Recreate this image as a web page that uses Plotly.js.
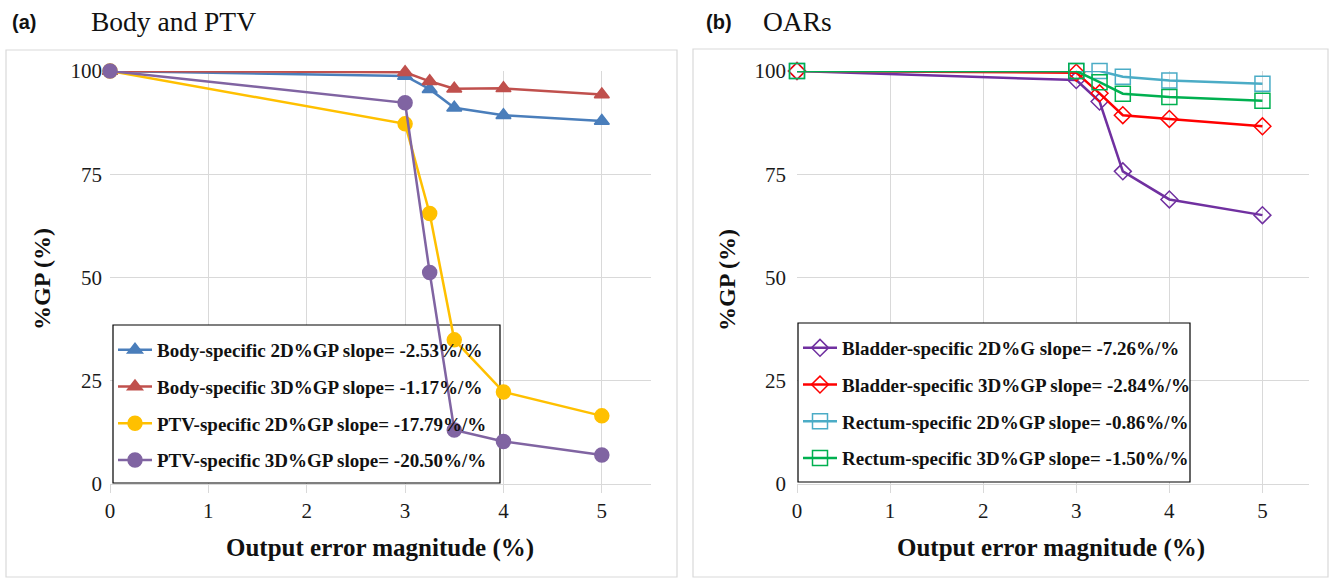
<!DOCTYPE html>
<html>
<head>
<meta charset="utf-8">
<script src="https://cdn.plot.ly/plotly-3.0.1.min.js"></script>
<style>html,body{margin:0;padding:0;background:#fff;}#chart{width:1333px;height:581px;}</style>
</head>
<body>
<div id="chart"></div>
<script>
// ---- data ----
const errorMagnitude = [0, 3, 3.25, 3.5, 4, 5];
const body2D = [100, 98.8, 95.6, 91.1, 89.3, 87.9];
const body3D = [100, 99.7, 97.5, 95.7, 95.8, 94.3];
const ptv2D = [100, 87.2, 65.5, 34.9, 22.3, 16.5];
const ptv3D = [100, 92.3, 51.2, 13.1, 10.3, 7.0];
const bladder2D = [100, 97.8, 92.6, 75.7, 68.9, 65.1];
const bladder3D = [100, 99.6, 94.6, 89.3, 88.4, 86.6];
const rectum2D = [100, 100, 100, 98.6, 97.7, 96.9];
const rectum3D = [100, 100, 97.3, 94.5, 93.7, 92.8];
const namesA = ["Body-specific 2D%GP slope= -2.53%/%", "Body-specific 3D%GP slope= -1.17%/%",
                "PTV-specific 2D%GP slope= -17.79%/%", "PTV-specific 3D%GP slope= -20.50%/%"];
const namesB = ["Bladder-specific 2D%G slope= -7.26%/%", "Bladder-specific 3D%GP slope= -2.84%/%",
                "Rectum-specific 2D%GP slope= -0.86%/%", "Rectum-specific 3D%GP slope= -1.50%/%"];
const xTicks = [0, 1, 2, 3, 4, 5];
const yTicks = [0, 25, 50, 75, 100];

const W = 1333, H = 581;
const px = v => v / W, py = v => (H - v) / H;
const SERIF = "Liberation Serif, Times New Roman, serif";
const XMAX = 5.5, YMAX = 100;

// plot area pixel boxes
const A = {l: 110, r: 651, t: 71, b: 484};
const B = {l: 797, r: 1309, t: 71, b: 484};

function tr(y, name, color, symbol, size, xa, ya, leg, grp) {
  return {
    x: errorMagnitude, y: y, name: name, type: 'scatter', mode: 'lines+markers',
    xaxis: xa, yaxis: ya, legend: leg, legendgroup: grp, cliponaxis: false,
    line: {color: color, width: 2.5},
    marker: {color: color, symbol: symbol, size: size, line: {color: color, width: 1.5}}
  };
}

const data = [
  tr(body2D, namesA[0], '#4a7ebb', 'triangle-up', 13, 'x', 'y', 'legend', 'a1'),
  tr(body3D, namesA[1], '#c0504d', 'triangle-up', 13, 'x', 'y', 'legend', 'a2'),
  tr(ptv2D, namesA[2], '#ffc000', 'circle', 14, 'x', 'y', 'legend', 'a3'),
  tr(ptv3D, namesA[3], '#8064a2', 'circle', 14, 'x', 'y', 'legend', 'a4'),
  tr(bladder2D, namesB[0], '#7030a0', 'diamond-open', 13, 'x2', 'y2', 'legend2', 'b1'),
  tr(bladder3D, namesB[1], '#ff0000', 'diamond-open', 13, 'x2', 'y2', 'legend2', 'b2'),
  tr(rectum2D, namesB[2], '#4bacc6', 'square-open', 15, 'x2', 'y2', 'legend2', 'b3'),
  tr(rectum3D, namesB[3], '#00b050', 'square-open', 15, 'x2', 'y2', 'legend2', 'b4')
];

function xAxis(P, anchor) {
  return {
    domain: [px(P.l), px(P.r)], anchor: anchor, range: [0, XMAX], tickvals: xTicks, ticktext: xTicks.map(String),
    showgrid: true, gridcolor: '#d9d9d9', gridwidth: 1, zeroline: false,
    showline: true, linecolor: '#d9d9d9', linewidth: 1,
    ticks: 'outside', ticklen: 8, tickcolor: '#d9d9d9',
    tickfont: {family: SERIF, size: 21, color: '#1a1a1a'}, fixedrange: true
  };
}
function yAxis(P, anchor, standoff) {
  return {
    domain: [py(P.b), py(P.t)], anchor: anchor, range: [0, YMAX], tickvals: yTicks, ticktext: yTicks.map(String),
    showgrid: true, gridcolor: '#d9d9d9', gridwidth: 1, zeroline: false, showline: false,
    ticks: '', ticklabelstandoff: standoff,
    tickfont: {family: SERIF, size: 21, color: '#1a1a1a'}, fixedrange: true
  };
}
function legendCfg(xp, yp) {
  return {
    x: px(xp), y: py(yp), xanchor: 'left', yanchor: 'top',
    bgcolor: 'rgba(0,0,0,0)', borderwidth: 0,
    font: {family: SERIF, size: 19, color: '#111', weight: 'bold'},
    traceorder: 'grouped', tracegroupgap: 9, itemwidth: 34
  };
}
// legend frame drawn between gridlines and traces (lines cross over it as in the original)
function frame(P, xa, ya, l, t, r, b) {
  const w = P.r - P.l, h = P.b - P.t;
  return {type: 'rect', xref: xa, yref: ya, layer: 'between',
    x0: (l - P.l) / w * XMAX, x1: (r - P.l) / w * XMAX, y0: (P.b - b) / h * YMAX, y1: (P.b - t) / h * YMAX,
    fillcolor: '#ffffff', line: {color: '#000', width: 1.2}};
}

const ann = (text, x, y, font, extra) => Object.assign({text: text, x: px(x), y: py(y), xref: 'paper', yref: 'paper',
  xanchor: 'center', yanchor: 'middle', showarrow: false, font: font}, extra || {});
const SANS = 'Liberation Sans, Arial, sans-serif';

const layout = {
  width: W, height: H, margin: {l: 0, r: 0, t: 0, b: 0},
  paper_bgcolor: '#fff', plot_bgcolor: '#fff', showlegend: true,
  xaxis: xAxis(A, 'y'), yaxis: yAxis(A, 'x', 7),
  xaxis2: xAxis(B, 'y2'), yaxis2: yAxis(B, 'x2', 10),
  legend: legendCfg(113, 331),
  legend2: legendCfg(798, 329),
  shapes: [
    {type: 'rect', xref: 'paper', yref: 'paper', x0: px(6), x1: px(677), y0: py(577), y1: py(50),
     line: {color: '#d9d9d9', width: 1.2}, layer: 'below'},
    {type: 'rect', xref: 'paper', yref: 'paper', x0: px(693), x1: px(1328), y0: py(577), y1: py(49),
     line: {color: '#d9d9d9', width: 1.2}, layer: 'below'},
    frame(A, 'x', 'y', 113, 325, 500, 483),
    frame(B, 'x2', 'y2', 798, 323, 1190, 482)
  ],
  annotations: [
    ann('<b>(a)</b>', 10, 22, {family: SANS, size: 20, color: '#111'}, {xanchor: 'left'}),
    ann('Body and PTV', 89, 22, {family: SERIF, size: 27.5, color: '#111'}, {xanchor: 'left'}),
    ann('<b>(b)</b>', 704, 22, {family: SANS, size: 20, color: '#111'}, {xanchor: 'left'}),
    ann('OARs', 761, 22, {family: SERIF, size: 27.5, color: '#111'}, {xanchor: 'left'}),
    ann('<b>%GP (%)</b>', 42, 279, {family: SERIF, size: 24, color: '#111'}, {textangle: -90}),
    ann('<b>%GP (%)</b>', 727, 280, {family: SERIF, size: 24, color: '#111'}, {textangle: -90}),
    ann('<b>Output error magnitude (%)</b>', 380, 548, {family: SERIF, size: 25, color: '#111'}),
    ann('<b>Output error magnitude (%)</b>', 1051, 548, {family: SERIF, size: 25, color: '#111'})
  ]
};

Plotly.newPlot('chart', data, layout, {displayModeBar: false, staticPlot: true});
</script>
</body>
</html>
